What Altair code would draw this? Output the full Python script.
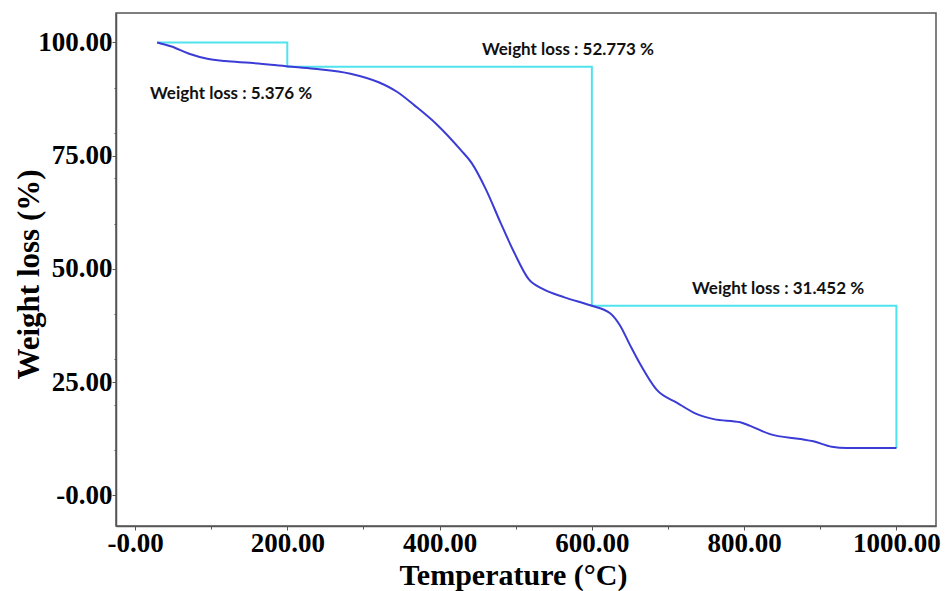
import altair as alt
import pandas as pd

# TGA curve
temperature = [29, 48, 71, 95, 118, 151, 202, 235, 283, 320, 344, 367, 395, 428, 442, 461,
               480, 498, 517, 536, 564, 599, 624, 637, 650, 664, 685, 712, 738, 760, 795,
               808, 834, 874, 891, 915, 935, 1000]
weight = [100.0, 99.1, 97.5, 96.4, 95.9, 95.5, 94.7, 94.2, 93.1, 91.2, 89.1, 86.1, 82.1, 76.2,
          73.4, 67.5, 60.2, 53.6, 47.7, 45.5, 43.7, 41.9, 40.2, 37.5, 33.2, 28.8, 23.3, 20.4,
          17.9, 16.8, 16.1, 15.3, 13.5, 12.4, 11.9, 10.7, 10.4, 10.4]

# step guide line
step_T = [29, 200, 200, 600, 600, 1000, 1000]
step_W = [100.0, 100.0, 94.624, 94.624, 41.851, 41.851, 10.399]

# annotations
label_text = ["Weight loss : 5.376 %", "Weight loss : 52.773 %", "Weight loss : 31.452 %"]
label_T = [19.7, 455.6, 731.5]
label_W = [87.5, 97.3, 44.4]

x_ticks = list(range(0, 1051, 50))
y_ticks = sorted(set(list(range(0, 101, 10)) + list(range(0, 101, 25))))

curve_df = pd.DataFrame({"T": temperature, "W": weight})
step_df = pd.DataFrame({"T": step_T, "W": step_W, "i": list(range(len(step_T)))})
label_df = pd.DataFrame({"T": label_T, "W": label_W, "text": label_text})

xscale = alt.Scale(domain=[-25, 1052], nice=False, zero=False)
yscale = alt.Scale(domain=[-6.8, 106.5], nice=False, zero=False)

x_axis = alt.Axis(
    title="Temperature (°C)",
    values=x_ticks,
    labelExpr="datum.value % 200 === 0 ? (datum.value === 0 ? '-0.00' : format(datum.value, '.2f')) : ''",
    labelFont="Liberation Serif", labelFontWeight="bold", labelFontSize=27, labelColor="black",
    labelPadding=0, labelOverlap=False, labelFlush=False,
    tickSize={"condition": {"test": "datum.value % 200 === 0", "value": 4}, "value": 3},
    tickColor="#555555",
    grid=False,
    titleFont="Liberation Serif", titleFontWeight="bold", titleFontSize=30, titleColor="black",
    titleX=397, titleY=58, titleAlign="center", titleBaseline="alphabetic",
)
y_axis = alt.Axis(
    title="Weight loss (%)",
    values=y_ticks,
    labelExpr="datum.value % 25 === 0 ? (datum.value === 0 ? '-0.00' : format(datum.value, '.2f')) : ''",
    labelFont="Liberation Serif", labelFontWeight="bold", labelFontSize=27, labelColor="black",
    labelPadding=0, labelOverlap=False, labelFlush=False,
    tickSize={"condition": {"test": "datum.value % 25 === 0", "value": 4}, "value": 2},
    tickColor="#555555",
    grid=False,
    titleFont="Liberation Serif", titleFontWeight="bold", titleFontSize=31, titleColor="black",
    titleX=-78, titleY=261, titleAlign="center", titleBaseline="alphabetic", titleAngle=270,
)

step = alt.Chart(step_df).mark_line(color="#4fe3ee", strokeWidth=2).encode(
    x=alt.X("T:Q", scale=xscale, axis=x_axis),
    y=alt.Y("W:Q", scale=yscale, axis=y_axis),
    order=alt.Order("i:Q"),
)

curve = alt.Chart(curve_df).mark_line(color="#3b3bd6", strokeWidth=2, interpolate="monotone").encode(
    x=alt.X("T:Q", scale=xscale),
    y=alt.Y("W:Q", scale=yscale),
)

labels = alt.Chart(label_df).mark_text(
    font="Lato", fontWeight="bold", fontSize=17, color="#111111",
    align="left", baseline="alphabetic",
).encode(
    x=alt.X("T:Q", scale=xscale),
    y=alt.Y("W:Q", scale=yscale),
    text="text:N",
)

chart = alt.layer(step, curve, labels).properties(
    width=820, height=513,
    autosize=alt.AutoSizeParams(type="none"),
    padding={"left": 116, "top": 13, "right": 9, "bottom": 65},
    background="white",
).configure_view(
    stroke="#555555", strokeWidth=1.5,
).configure_axis(
    domainColor="#555555", domainWidth=1.5,
)

chart.save("out.html", embed_options={"renderer": "svg", "actions": False})
